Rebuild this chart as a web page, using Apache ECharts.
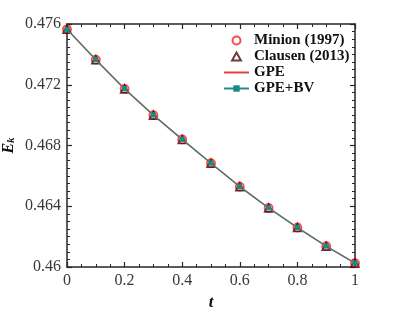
<!DOCTYPE html>
<html><head><meta charset="utf-8">
<script src="https://cdn.jsdelivr.net/npm/echarts@6/dist/echarts.min.js"></script>
<style>html,body{margin:0;padding:0;background:#fff}#c{width:393px;height:314px}</style>
</head><body><div id="c"></div>
<script>
const tValues = [0, 0.1, 0.2, 0.3, 0.4, 0.5, 0.6, 0.7, 0.8, 0.9, 1];
const minion = [0.47565, 0.47365, 0.47173, 0.47000, 0.46840, 0.46683, 0.46529, 0.46389, 0.46260, 0.46137, 0.46025];
const clausen = [0.47565, 0.47365, 0.47173, 0.47000, 0.46840, 0.46683, 0.46529, 0.46389, 0.46260, 0.46137, 0.46025];
const gpe = [0.47565, 0.47365, 0.47173, 0.47000, 0.46840, 0.46683, 0.46529, 0.46389, 0.46260, 0.46137, 0.46025];
const gpebv = [0.47565, 0.47365, 0.47173, 0.47000, 0.46840, 0.46683, 0.46529, 0.46389, 0.46260, 0.46137, 0.46025];
const seriesNames = ['Minion (1997)', 'Clausen (2013)', 'GPE', 'GPE+BV'];
const xTicks = [0, 0.2, 0.4, 0.6, 0.8, 1];
const yTicks = [0.46, 0.464, 0.468, 0.472, 0.476];

const pair = arr => tValues.map((t, i) => [t, arr[i]]);
const font = 'Liberation Serif';
const axisCol = '#262626';
const triPath = 'path://M0,-10L10,8L-10,8Z';
function baseAxis(extra) {
  return Object.assign({
    axisLine: {show: true, onZero: false, lineStyle: {color: axisCol, width: 1.5}},
    axisTick: {show: true, inside: true, length: 5, lineStyle: {color: axisCol, width: 1.2}},
    minorTick: {show: true, splitNumber: 4, length: 3, lineStyle: {color: axisCol, width: 1}},
    splitLine: {show: false},
    axisLabel: {show: false}
  }, extra);
}
const chart = echarts.init(document.getElementById('c'));
chart.setOption({
  animation: false,
  grid: {left: 67, right: 38, top: 24, bottom: 47, containLabel: false, outerBoundsMode: 'none'},
  xAxis: [
    baseAxis({type: 'value', min: xTicks[0], max: xTicks[xTicks.length-1], interval: 0.2, position: 'bottom',
      name: 't', nameLocation: 'middle', nameGap: 27, nameMoveOverlap: false,
      nameTextStyle: {fontFamily: font, fontStyle: 'italic', fontWeight: 'bold', fontSize: 17, color: '#111'},
      axisLabel: {show: true, fontFamily: font, fontSize: 16, color: '#383838', margin: 6,
        formatter: v => String(+v.toFixed(3))}}),
    baseAxis({type: 'value', min: 0, max: 1, interval: 0.2, position: 'top'})
  ],
  yAxis: [
    baseAxis({type: 'value', min: yTicks[0], max: yTicks[yTicks.length-1], interval: 0.004, position: 'left',
      minorTick: {show: true, splitNumber: 8, length: 3, lineStyle: {color: axisCol, width: 1}},
      name: '{e|E}{k|k}', nameLocation: 'middle', nameGap: 50, nameRotate: 90, nameMoveOverlap: false,
      nameTextStyle: {rich: {
        e: {fontFamily: font, fontStyle: 'italic', fontWeight: 'bold', fontSize: 16, color: '#111'},
        k: {fontFamily: font, fontStyle: 'italic', fontWeight: 'bold', fontSize: 11, color: '#111', verticalAlign: 'bottom', padding: [6,0,0,0]}
      }},
      axisLabel: {show: true, fontFamily: font, fontSize: 16, color: '#383838', margin: 6,
        formatter: v => String(+v.toFixed(3))}}),
    baseAxis({type: 'value', min: 0.46, max: 0.476, interval: 0.004, position: 'right',
      minorTick: {show: true, splitNumber: 8, length: 3, lineStyle: {color: axisCol, width: 1}}})
  ],
  legend: {
    orient: 'vertical', left: 218, top: 28, itemWidth: 25, itemHeight: 8, itemGap: 1,
    symbolKeepAspect: true,
    data: [
      {name: seriesNames[0], icon: 'circle'},
      {name: seriesNames[1], icon: triPath},
      {name: seriesNames[2], itemStyle: {opacity: 0}},
      {name: seriesNames[3]}
    ],
    textStyle: {fontFamily: font, fontWeight: 'bold', fontSize: 15, lineHeight: 15, color: '#111'}
  },
  series: [
    {name: seriesNames[0], type: 'scatter', data: pair(minion), symbol: 'circle', symbolSize: 8,
      itemStyle: {color: 'rgba(0,0,0,0)', borderColor: '#ff1a1a', borderWidth: 1.8}, z: 2},
    {name: seriesNames[1], type: 'scatter', data: pair(clausen), symbol: 'triangle', symbolSize: 8,
      itemStyle: {color: 'rgba(0,0,0,0)', borderColor: '#4a0a0a', borderWidth: 1.6}, z: 3},
    {name: seriesNames[2], type: 'line', data: pair(gpe), showSymbol: false, symbol: 'none',
      lineStyle: {color: '#e04040', width: 1.5}, itemStyle: {color: '#e04040'}, z: 4},
    {name: seriesNames[3], type: 'line', data: pair(gpebv), symbol: 'rect', symbolSize: 5,
      lineStyle: {color: '#2f8a86', width: 1.2}, itemStyle: {color: '#1a8a84'}, z: 5}
  ]
});
</script></body></html>
